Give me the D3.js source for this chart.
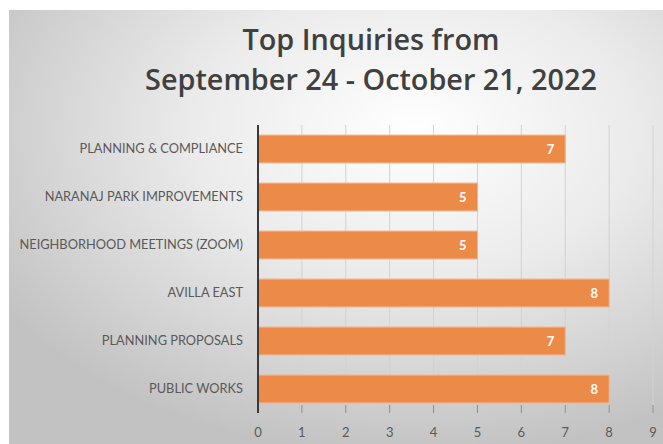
<!DOCTYPE html>
<html>
<head>
<meta charset="utf-8">
<script src="https://cdn.jsdelivr.net/npm/d3@7"></script>
<style>
  body { margin: 0; background: #fff; }
  svg { display: block; }
</style>
</head>
<body>
<div id="chart"></div>
<script>
const categories = [
    'PLANNING & COMPLIANCE',
    'NARANAJ PARK IMPROVEMENTS',
    'NEIGHBORHOOD MEETINGS (ZOOM)',
    'AVILLA EAST',
    'PLANNING PROPOSALS',
    'PUBLIC WORKS'
]
const inquiries = [7, 5, 5, 8, 7, 8]
const xTicks = [0, 1, 2, 3, 4, 5, 6, 7, 8, 9]
const titleLines = ['Top Inquiries from', 'September 24 - October 21, 2022']

const width = 663
const height = 444
const plot = { left: 258, right: 653, top: 125, bottom: 413 }

const data = categories.map((c, i) => ({ cat: c, val: inquiries[i] }))

const svg = d3.select('#chart').append('svg')
    .attr('width', width)
    .attr('height', height)

// background gradient
const defs = svg.append('defs')
const grad = defs.append('radialGradient')
    .attr('id', 'bg')
    .attr('cx', '62%').attr('cy', '28%').attr('r', '75%')
grad.append('stop').attr('offset', '0%').attr('stop-color', '#ffffff')
grad.append('stop').attr('offset', '45%').attr('stop-color', '#ebebeb')
grad.append('stop').attr('offset', '100%').attr('stop-color', '#c2c2c2')

svg.append('rect')
    .attr('x', 9).attr('y', 10)
    .attr('width', width - 9).attr('height', height - 10)
    .attr('fill', 'url(#bg)')

const x = d3.scaleLinear().domain([0, 9]).range([plot.left, plot.right])
const y = d3.scaleBand().domain(categories)
    .range([plot.top, plot.bottom])
    .paddingInner(0.42).paddingOuter(0.21)

// gridlines
svg.append('g').selectAll('line').data(xTicks.slice(1)).join('line')
    .attr('x1', d => x(d)).attr('x2', d => x(d))
    .attr('y1', plot.top).attr('y2', plot.bottom)
    .attr('stroke', '#d2d2d2').attr('stroke-width', 1)

// tick marks below bars
svg.append('g').selectAll('line').data(xTicks).join('line')
    .attr('x1', d => x(d)).attr('x2', d => x(d))
    .attr('y1', plot.bottom - 8).attr('y2', plot.bottom)
    .attr('stroke', '#8c8c8c').attr('stroke-width', 1)

// bars
svg.append('g').selectAll('rect').data(data).join('rect')
    .attr('x', x(0))
    .attr('y', d => y(d.cat))
    .attr('width', d => x(d.val) - x(0))
    .attr('height', y.bandwidth())
    .attr('fill', '#ec8a47')
    .attr('stroke', '#f4b386')
    .attr('stroke-width', 1)

// value labels
svg.append('g').selectAll('text').data(data).join('text')
    .attr('x', d => x(d.val) - 11)
    .attr('y', d => y(d.cat) + y.bandwidth() / 2)
    .attr('dy', '0.35em')
    .attr('text-anchor', 'end')
    .attr('fill', '#fff')
    .attr('font-family', 'Lato, sans-serif')
    .attr('font-weight', 'bold')
    .attr('font-size', 13)
    .text(d => d.val)

// vertical axis line
svg.append('line')
    .attr('x1', x(0)).attr('x2', x(0))
    .attr('y1', plot.top).attr('y2', plot.bottom)
    .attr('stroke', '#3a3a3a').attr('stroke-width', 2)

// category labels
svg.append('g').selectAll('text').data(categories).join('text')
    .attr('x', 243)
    .attr('y', d => y(d) + y.bandwidth() / 2)
    .attr('dy', '0.35em')
    .attr('text-anchor', 'end')
    .attr('fill', '#595959')
    .attr('font-family', 'Lato, sans-serif')
    .attr('font-size', 12.8)
    .text(d => d)

// x tick labels
svg.append('g').selectAll('text').data(xTicks).join('text')
    .attr('x', d => x(d))
    .attr('y', 432)
    .attr('dy', '0.35em')
    .attr('text-anchor', 'middle')
    .attr('fill', '#595959')
    .attr('font-family', 'Lato, sans-serif')
    .attr('font-size', 13)
    .text(d => d)

// title
svg.append('g').selectAll('text').data(titleLines).join('text')
    .attr('x', 371)
    .attr('y', (d, i) => 50 + i * 40)
    .attr('text-anchor', 'middle')
    .attr('fill', '#404040')
    .attr('font-family', '"Open Sans", sans-serif')
    .attr('font-weight', 600)
    .attr('font-size', 28.8)
    .text(d => d)
</script>
</body>
</html>
